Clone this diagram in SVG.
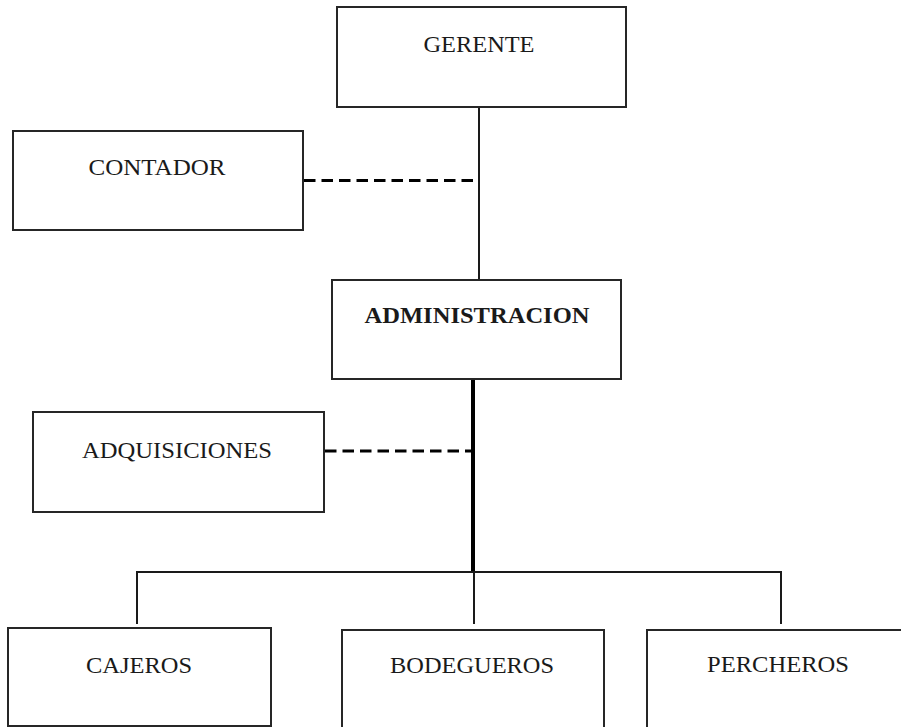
<svg xmlns="http://www.w3.org/2000/svg" width="901" height="727" viewBox="0 0 901 727">
<style>
.box{fill:#fff;stroke:#262626;stroke-width:2}
.lbl{font-family:"Liberation Serif","Times New Roman",serif;font-size:22.5px;fill:#1a1a1a;text-anchor:middle}
.b{font-weight:bold}
.ln{stroke:#1a1a1a;stroke-width:2;fill:none}
.thick{stroke:#000;stroke-width:4;fill:none}
.dash{stroke:#000;stroke-width:3;stroke-dasharray:11.5 6;fill:none}
</style>
<rect width="901" height="727" fill="#fff"/>
<g id="connectors">
<line class="ln" x1="479" y1="107" x2="479" y2="280"/>
<line class="dash" x1="304" y1="180.5" x2="479" y2="180.5"/>
<line class="thick" x1="473" y1="379" x2="473" y2="573"/>
<line class="dash" x1="325" y1="451" x2="472" y2="451"/>
<polyline class="ln" points="137,624 137,572 781,572 781,624"/>
<line class="ln" x1="474" y1="572" x2="474" y2="624"/>
</g>
<g id="gerente">
<rect class="box" x="337" y="7" width="289" height="100"/>
<text class="lbl" x="479" y="52" textLength="111" lengthAdjust="spacingAndGlyphs">GERENTE</text>
</g>
<g id="contador">
<rect class="box" x="13" y="131" width="290" height="99"/>
<text class="lbl" x="157" y="175" textLength="137" lengthAdjust="spacingAndGlyphs">CONTADOR</text>
</g>
<g id="administracion">
<rect class="box" x="332" y="280" width="289" height="99"/>
<text class="lbl b" x="477" y="323" textLength="225" lengthAdjust="spacingAndGlyphs">ADMINISTRACION</text>
</g>
<g id="adquisiciones">
<rect class="box" x="33" y="412" width="291" height="100"/>
<text class="lbl" x="177" y="458" textLength="190" lengthAdjust="spacingAndGlyphs">ADQUISICIONES</text>
</g>
<g id="cajeros">
<rect class="box" x="8" y="628" width="263" height="98"/>
<text class="lbl" x="139" y="673" textLength="106" lengthAdjust="spacingAndGlyphs">CAJEROS</text>
</g>
<g id="bodegueros">
<rect class="box" x="342" y="630" width="262" height="98"/>
<text class="lbl" x="472" y="673" textLength="164" lengthAdjust="spacingAndGlyphs">BODEGUEROS</text>
</g>
<g id="percheros">
<rect class="box" x="647" y="630" width="262" height="98"/>
<text class="lbl" x="778" y="672" textLength="142" lengthAdjust="spacingAndGlyphs">PERCHEROS</text>
</g>
</svg>
